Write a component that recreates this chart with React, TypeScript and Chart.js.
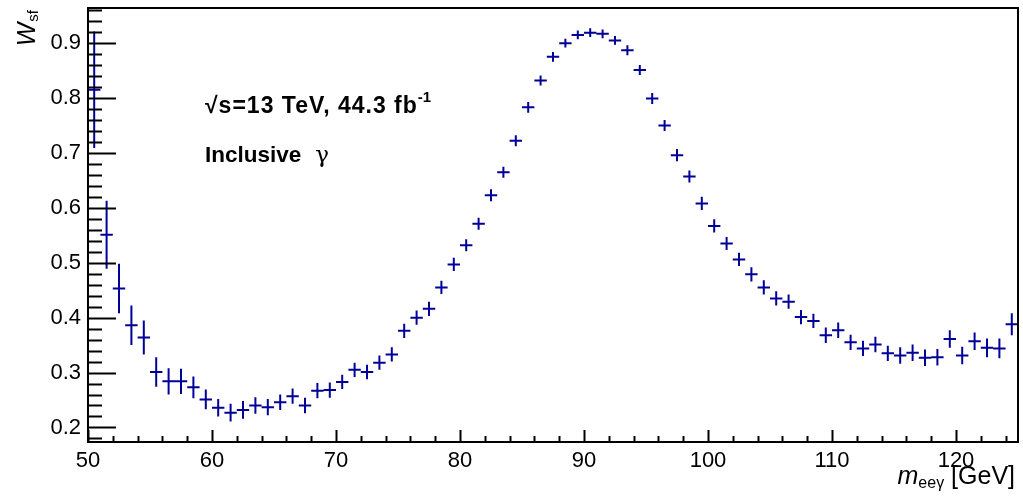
import React, { useEffect, useRef } from "react";
import { Chart, registerables } from "chart.js";

Chart.register(...registerables);

// ---- data ----
const binCenters = [
  50.5, 51.5, 52.5, 53.5, 54.5, 55.5, 56.5, 57.5, 58.5, 59.5,
  60.5, 61.5, 62.5, 63.5, 64.5, 65.5, 66.5, 67.5, 68.5, 69.5,
  70.5, 71.5, 72.5, 73.5, 74.5, 75.5, 76.5, 77.5, 78.5, 79.5,
  80.5, 81.5, 82.5, 83.5, 84.5, 85.5, 86.5, 87.5, 88.5, 89.5,
  90.5, 91.5, 92.5, 93.5, 94.5, 95.5, 96.5, 97.5, 98.5, 99.5,
  100.5, 101.5, 102.5, 103.5, 104.5, 105.5, 106.5, 107.5, 108.5, 109.5,
  110.5, 111.5, 112.5, 113.5, 114.5, 115.5, 116.5, 117.5, 118.5, 119.5,
  120.5, 121.5, 122.5, 123.5, 124.5,
];
const binHalfWidth = 0.5;

const wsfValues = [
  0.815, 0.551, 0.453, 0.386, 0.364, 0.301, 0.284, 0.284, 0.273, 0.251,
  0.236, 0.227, 0.232, 0.240, 0.237, 0.246, 0.257, 0.240, 0.267, 0.268,
  0.283, 0.305, 0.301, 0.318, 0.333, 0.376, 0.400, 0.416, 0.455, 0.497,
  0.532, 0.571, 0.623, 0.665, 0.722, 0.783, 0.832, 0.875, 0.900, 0.915,
  0.919, 0.917, 0.905, 0.887, 0.851, 0.799, 0.750, 0.696, 0.657, 0.608,
  0.567, 0.535, 0.506, 0.479, 0.455, 0.435, 0.429, 0.401, 0.394, 0.368,
  0.377, 0.355, 0.344, 0.351, 0.335, 0.331, 0.336, 0.327, 0.328, 0.361,
  0.331, 0.357, 0.345, 0.344, 0.388,
];

const wsfErrors = [
  0.106, 0.062, 0.045, 0.036, 0.031, 0.027, 0.024, 0.023, 0.020, 0.018,
  0.016, 0.016, 0.016, 0.015, 0.015, 0.014, 0.014, 0.014, 0.014, 0.014,
  0.013, 0.013, 0.013, 0.013, 0.013, 0.013, 0.013, 0.013, 0.012, 0.012,
  0.011, 0.011, 0.011, 0.010, 0.010, 0.010, 0.009, 0.009, 0.008, 0.008,
  0.008, 0.008, 0.008, 0.009, 0.009, 0.010, 0.010, 0.011, 0.011, 0.012,
  0.012, 0.012, 0.012, 0.013, 0.013, 0.013, 0.013, 0.013, 0.013, 0.014,
  0.014, 0.014, 0.014, 0.014, 0.014, 0.015, 0.015, 0.015, 0.015, 0.016,
  0.016, 0.016, 0.017, 0.018, 0.020,
];

const xMin = 50;
const xMax = 125;
const yMin = 0.1735;
const yMax = 0.964;

const xTickValues = [50, 60, 70, 80, 90, 100, 110, 120];
const xTickLabels = ["50", "60", "70", "80", "90", "100", "110", "120"];
const xMinorStep = 2;
const yTickValues = [0.2, 0.3, 0.4, 0.5, 0.6, 0.7, 0.8, 0.9];
const yTickLabels = ["0.2", "0.3", "0.4", "0.5", "0.6", "0.7", "0.8", "0.9"];
const yMinorStep = 0.02;

const yTitleMain = "W";
const yTitleSub = "sf";
const xTitleMain = "m";
const xTitleSub = "eeγ";
const xTitleUnit = " [GeV]";
const energyLabel = "√s=13 TeV, 44.3 fb";
const energySup = "-1";
const selectionLabel = "Inclusive";
const selectionSymbol = "γ";

const FONT = "'Liberation Sans', Arial, Helvetica, sans-serif";
const MARK_COLOR = "#000099";

const rootStylePlugin = {
  id: "rootStyle",
  afterDatasetsDraw(chart: any) {
    const { ctx, chartArea: a } = chart;
    const xs = chart.scales.x;
    const ys = chart.scales.y;

    // error-bar crosses
    ctx.save();
    ctx.beginPath();
    ctx.rect(a.left, a.top, a.right - a.left, a.bottom - a.top);
    ctx.clip();
    ctx.strokeStyle = MARK_COLOR;
    ctx.lineWidth = 2;
    ctx.beginPath();
    for (let i = 0; i < binCenters.length; i++) {
      const cx = xs.getPixelForValue(binCenters[i]);
      const xl = xs.getPixelForValue(binCenters[i] - binHalfWidth);
      const xr = xs.getPixelForValue(binCenters[i] + binHalfWidth);
      const cy = ys.getPixelForValue(wsfValues[i]);
      const yt = ys.getPixelForValue(wsfValues[i] + wsfErrors[i]);
      const yb = ys.getPixelForValue(wsfValues[i] - wsfErrors[i]);
      ctx.moveTo(xl, cy);
      ctx.lineTo(xr, cy);
      ctx.moveTo(cx, yt);
      ctx.lineTo(cx, yb);
    }
    ctx.stroke();
    ctx.restore();

    // frame
    ctx.save();
    ctx.strokeStyle = "#000";
    ctx.lineWidth = 2;
    ctx.strokeRect(a.left, a.top, a.right - a.left, a.bottom - a.top);

    // y ticks (inside, from the left axis)
    ctx.beginPath();
    const yMajorLen = 28;
    const yMinorLen = 14;
    for (let k = 0; ; k++) {
      const v = Math.round((0.18 + k * yMinorStep) * 1000) / 1000;
      if (v > yMax) break;
      if (v < yMin) continue;
      const py = Math.round(ys.getPixelForValue(v)) + 0.5;
      const isMajor = yTickValues.some((t) => Math.abs(t - v) < 1e-6);
      ctx.moveTo(a.left, py);
      ctx.lineTo(a.left + (isMajor ? yMajorLen : yMinorLen), py);
    }
    // x ticks (inside, from the bottom axis)
    const xMajorLen = 12;
    const xMinorLen = 6;
    for (let v = xMin; v <= xMax; v += xMinorStep) {
      const px = Math.round(xs.getPixelForValue(v)) + 0.5;
      const isMajor = xTickValues.includes(v);
      ctx.moveTo(px, a.bottom);
      ctx.lineTo(px, a.bottom - (isMajor ? xMajorLen : xMinorLen));
    }
    ctx.stroke();

    ctx.fillStyle = "#000";
    ctx.textBaseline = "alphabetic";

    // y title (rotated)
    ctx.save();
    ctx.translate(35, a.top + 2);
    ctx.rotate(-Math.PI / 2);
    ctx.font = `italic 25px ${FONT}`;
    const wMain = ctx.measureText(yTitleMain).width;
    ctx.font = `15px ${FONT}`;
    const wSub = ctx.measureText(yTitleSub).width;
    ctx.textAlign = "left";
    ctx.font = `italic 25px ${FONT}`;
    ctx.fillText(yTitleMain, -(wMain + wSub + 1), 0);
    ctx.font = `15px ${FONT}`;
    ctx.fillText(yTitleSub, -wSub, 3);
    ctx.restore();

    // x title
    ctx.textAlign = "left";
    ctx.font = `italic 25px ${FONT}`;
    const mW = ctx.measureText(xTitleMain).width;
    ctx.font = `16px ${FONT}`;
    const subW = ctx.measureText(xTitleSub).width;
    ctx.font = `25px ${FONT}`;
    const unitW = ctx.measureText(xTitleUnit).width;
    const xEnd = a.right - 3;
    const xBase = 484;
    const xs0 = xEnd - unitW - subW - mW;
    ctx.font = `italic 25px ${FONT}`;
    ctx.fillText(xTitleMain, xs0, xBase);
    ctx.font = `16px ${FONT}`;
    ctx.fillText(xTitleSub, xs0 + mW, xBase + 4);
    ctx.font = `25px ${FONT}`;
    ctx.fillText(xTitleUnit, xs0 + mW + subW, xBase);

    // annotations
    ctx.font = `bold 23px ${FONT}`;
    (ctx as any).letterSpacing = "1px";
    ctx.fillText(energyLabel, 205, 113);
    const eW = ctx.measureText(energyLabel).width;
    (ctx as any).letterSpacing = "0px";
    ctx.font = `bold 15px ${FONT}`;
    ctx.fillText(energySup, 205 + eW, 102);
    ctx.font = `bold 22.5px ${FONT}`;
    ctx.fillText(selectionLabel, 205, 162);
    const sW = ctx.measureText(selectionLabel).width;
    ctx.font = `23px 'DejaVu Serif', 'Liberation Serif', serif`;
    ctx.fillText(selectionSymbol, 205 + sW + 14, 162);

    ctx.restore();
  },
};

export default function App() {
  const canvasRef = useRef<HTMLCanvasElement | null>(null);

  useEffect(() => {
    const canvas = canvasRef.current;
    if (!canvas) return;
    const points = binCenters.map((x, i) => ({ x, y: wsfValues[i] }));
    const chart = new Chart(canvas, {
      type: "scatter",
      data: {
        datasets: [
          {
            label: "W_sf",
            data: points,
            showLine: false,
            pointRadius: 0,
            pointHoverRadius: 0,
            borderColor: MARK_COLOR,
            backgroundColor: MARK_COLOR,
          },
        ],
      },
      options: {
        responsive: false,
        animation: false,
        events: [],
        layout: { padding: { top: 8, right: 5, left: 0, bottom: 0 } },
        plugins: {
          legend: { display: false },
          tooltip: { enabled: false },
          title: { display: false },
        },
        scales: {
          x: {
            type: "linear",
            position: "bottom",
            min: xMin,
            max: xMax,
            grid: { display: false, drawTicks: false },
            border: { display: false },
            afterBuildTicks: (s: any) => {
              s.ticks = xTickValues.map((v) => ({ value: v }));
            },
            afterFit: (s: any) => {
              s.height = 56;
              s.paddingLeft = 0;
              s.paddingRight = 0;
            },
            ticks: {
              autoSkip: false,
              maxRotation: 0,
              padding: 6,
              color: "#000",
              font: { family: FONT, size: 22 },
              callback: (v: any) => {
                const idx = xTickValues.indexOf(Number(v));
                return idx >= 0 ? xTickLabels[idx] : "";
              },
            },
          },
          y: {
            type: "linear",
            position: "left",
            min: yMin,
            max: yMax,
            grid: { display: false, drawTicks: false },
            border: { display: false },
            afterBuildTicks: (s: any) => {
              s.ticks = yTickValues.map((v) => ({ value: v }));
            },
            afterFit: (s: any) => {
              s.width = 88;
              s.paddingTop = 0;
              s.paddingBottom = 0;
            },
            ticks: {
              autoSkip: false,
              padding: 7,
              color: "#000",
              font: { family: FONT, size: 22 },
              callback: (v: any) => {
                const idx = yTickValues.findIndex((t) => Math.abs(t - Number(v)) < 1e-6);
                return idx >= 0 ? yTickLabels[idx] : "";
              },
            },
          },
        },
      },
      plugins: [rootStylePlugin],
    });
    return () => chart.destroy();
  }, []);

  return (
    <div style={{ position: "absolute", left: 0, top: 0, width: 1023, height: 498, background: "#fff" }}>
      <canvas ref={canvasRef} width={1023} height={498} style={{ display: "block" }} />
    </div>
  );
}
